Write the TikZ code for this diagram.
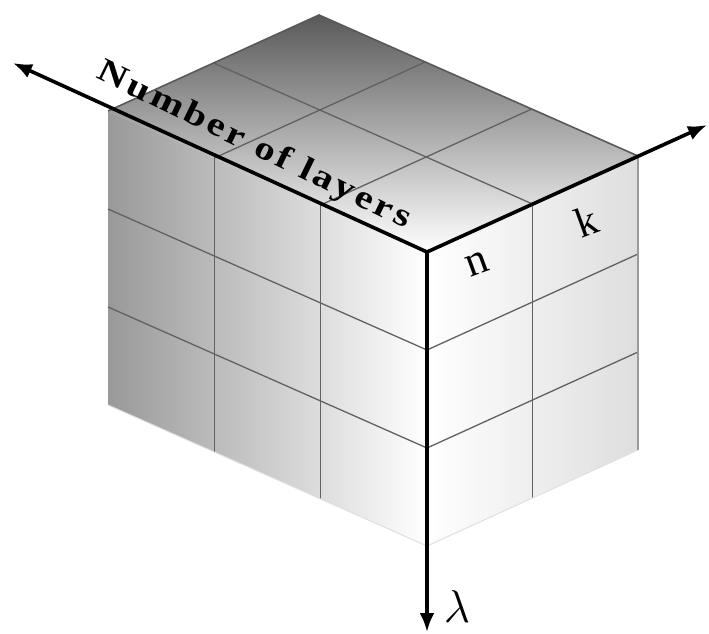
\RequirePackage{fix-cm}
\documentclass[tikz,border=0pt]{standalone}
\usepackage{fontspec}
\setmainfont{Liberation Serif}
\newfontfamily\layersfont[LetterSpace=8]{Liberation Serif}
\usetikzlibrary{calc,arrows.meta}
\begin{document}
\begin{tikzpicture}[x=1pt,y=-1pt,
  >={Latex[length=19pt,width=15pt]},
  gridline/.style={draw=black!62, line width=1.3pt},
  backedge/.style={draw=black!65, line width=1.6pt},
  sideedge/.style={draw=black!40, line width=1.6pt},
  faintedge/.style={draw=black!12, line width=1pt},
  axisline/.style={line width=3.6pt, line join=miter},
  axislabel/.style={inner sep=0pt}]
\useasboundingbox (0,0) rectangle (709,633);
% cube corners
\coordinate (O) at (427,252);
\coordinate (A) at (108,111);
\coordinate (B) at (638,156);
\coordinate (T) at (319,15);
\coordinate (C) at (427,546);
\coordinate (AC) at (108,405);
\coordinate (BC) at (638,450);
% faces
\shade[top color=black!65, bottom color=white] (O) -- (A) -- (T) -- (B) -- cycle;
\shade[left color=black!40, right color=white] (O) -- (A) -- (AC) -- (C) -- cycle;
\shade[left color=white, right color=black!13] (O) -- (B) -- (BC) -- (C) -- cycle;
% left face grid
\draw[gridline] ($(O)!1/3!(A)$) -- ($(C)!1/3!(AC)$);
\draw[gridline] ($(O)!2/3!(A)$) -- ($(C)!2/3!(AC)$);
\draw[gridline] ($(O)!1/3!(C)$) -- ($(A)!1/3!(AC)$);
\draw[gridline] ($(O)!2/3!(C)$) -- ($(A)!2/3!(AC)$);
% right face grid
\draw[gridline] ($(O)!1/2!(B)$) -- ($(C)!1/2!(BC)$);
\draw[gridline] ($(O)!1/3!(C)$) -- ($(B)!1/3!(BC)$);
\draw[gridline] ($(O)!2/3!(C)$) -- ($(B)!2/3!(BC)$);
% top face grid
\draw[gridline] ($(O)!1/3!(A)$) -- ($(B)!1/3!(T)$);
\draw[gridline] ($(O)!2/3!(A)$) -- ($(B)!2/3!(T)$);
\draw[gridline] ($(O)!1/2!(B)$) -- ($(A)!1/2!(T)$);
% outer edges
\draw[backedge] (A) -- (T) -- (B);
\draw[sideedge] (B) -- (BC);
\draw[faintedge] (AC) -- (C) -- (BC);
% axes
\coordinate (Lend) at (13,63);
\coordinate (Rend) at (707,125);
\coordinate (Dend) at (427,632);
\draw[axisline, <->] (Lend) -- (O) -- (Rend);
\draw[axisline, ->] (O) -- (Dend);
% labels
\node[axislabel, font=\layersfont\bfseries\fontsize{33}{33}\selectfont, rotate=-26] (layers) at (254,146) {\scalebox{1.23}[1]{Number of layers}};
\node[axislabel, font=\fontsize{44}{44}\selectfont, rotate=20] (n) at (477,264) {n};
\node[axislabel, font=\fontsize{42}{42}\selectfont, rotate=20] (k) at (586,221) {k};
\node[axislabel, font=\fontsize{46}{46}\selectfont] (lam) at (457,607) {$\lambda$};
\end{tikzpicture}
\end{document}
